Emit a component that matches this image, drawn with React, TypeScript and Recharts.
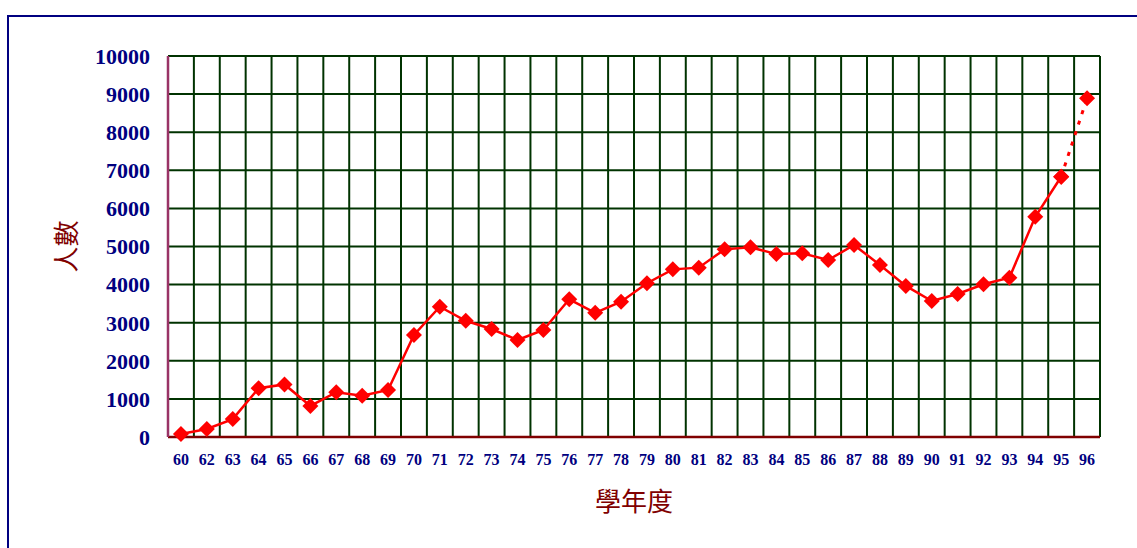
import { LineChart, Line, XAxis, YAxis, CartesianGrid } from "recharts"

const years = [
  "60", "62", "63", "64", "65", "66", "67", "68", "69",
  "70", "71", "72", "73", "74", "75", "76", "77", "78", "79",
  "80", "81", "82", "83", "84", "85", "86", "87", "88", "89",
  "90", "91", "92", "93", "94", "95", "96",
]

const students = [
  80, 210, 470, 1280, 1380, 815, 1175, 1085, 1235,
  2680, 3420, 3050, 2835, 2545, 2810, 3615, 3260, 3550, 4035,
  4400, 4445, 4925, 4980, 4800, 4820, 4645, 5040, 4515, 3965,
  3570, 3755, 4010, 4180, 5780, 6830, 8890,
]

const yTicks = [0, 1000, 2000, 3000, 4000, 5000, 6000, 7000, 8000, 9000, 10000]

// last year is an estimate, drawn dotted
const lastActual = years.length - 2

const data = years.map((year, i) => ({
  x: i + 0.5,
  year,
  actual: i <= lastActual ? students[i] : null,
  estimate: i >= lastActual ? students[i] : null,
}))

const labelTicks = years.map((_, i) => i + 0.5)
const gridTicks = years.map((_, i) => i).concat(years.length)

const Diamond = (props: any) => {
  const { cx, cy, value } = props
  if (value == null || cx == null || cy == null) return null
  const r = 8
  return (
    <polygon
      points={`${cx},${cy - r} ${cx + r},${cy} ${cx},${cy + r} ${cx - r},${cy}`}
      fill="#FF0000"
      stroke="none"
    />
  )
}

const serif = "'Liberation Serif', 'Times New Roman', serif"
const cjk = "'Noto Sans CJK TC', sans-serif"

export default function App() {
  return (
    <div style={{ position: "absolute", left: 0, top: 0, width: 1137, height: 548, overflow: "hidden", background: "#fff" }}>
      <div
        style={{
          position: "absolute",
          left: 7,
          top: 15,
          width: 1300,
          height: 800,
          border: "2px solid #000080",
        }}
      />
      <div style={{ position: "absolute", left: 0, top: 0 }}>
        <LineChart width={1137} height={548} data={data} margin={{ top: 56, right: 37, bottom: 0, left: 0 }}>
          <XAxis xAxisId="grid" type="number" dataKey="x" domain={[0, years.length]} ticks={gridTicks} height={0} hide />
          <CartesianGrid xAxisId="grid" stroke="#003300" strokeWidth={2} horizontalValues={yTicks} />
          <XAxis
            xAxisId="main"
            type="number"
            dataKey="x"
            domain={[0, years.length]}
            ticks={labelTicks}
            interval={0}
            tickFormatter={(v: number) => years[Math.floor(v)]}
            height={111}
            tickSize={0}
            tickMargin={17}
            axisLine={{ stroke: "#800000", strokeWidth: 2.5 }}
            tick={{ fill: "#000080", fontSize: 16, fontWeight: "bold", fontFamily: serif }}
            label={{
              content: (p: any) => {
                const vb = p.viewBox
                return (
                  <text
                    x={vb.x + vb.width / 2}
                    y={vb.y + 62}
                    textAnchor="middle"
                    dominantBaseline="central"
                    fill="#800000"
                    fontSize={26}
                    fontFamily={cjk}
                  >
                    學年度
                  </text>
                )
              },
            }}
          />
          <YAxis
            type="number"
            domain={[0, 10000]}
            ticks={yTicks}
            interval={0}
            width={168}
            tickSize={0}
            tickMargin={18}
            axisLine={{ stroke: "#993366", strokeWidth: 2.5 }}
            tick={{ fill: "#000080", fontSize: 22, fontWeight: "bold", fontFamily: serif }}
            label={{
              content: (p: any) => {
                const vb = p.viewBox
                const cx = 64
                const cy = vb.y + vb.height / 2
                return (
                  <text
                    x={cx}
                    y={cy}
                    transform={`rotate(-90 ${cx} ${cy})`}
                    textAnchor="middle"
                    dominantBaseline="central"
                    fill="#800000"
                    fontSize={26}
                    fontFamily={cjk}
                  >
                    人數
                  </text>
                )
              },
            }}
          />
          <Line
            xAxisId="main"
            dataKey="estimate"
            stroke="#FF0000"
            strokeWidth={3}
            strokeDasharray="4 7"
            dot={<Diamond />}
            activeDot={false}
            connectNulls={false}
            isAnimationActive={false}
          />
          <Line
            xAxisId="main"
            dataKey="actual"
            stroke="#FF0000"
            strokeWidth={2.5}
            dot={<Diamond />}
            activeDot={false}
            connectNulls={false}
            isAnimationActive={false}
          />
        </LineChart>
      </div>
    </div>
  )
}
